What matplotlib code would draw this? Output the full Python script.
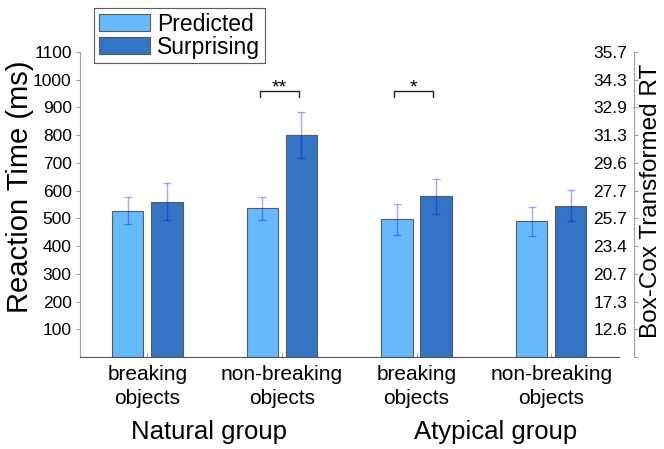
import numpy as np
import matplotlib
matplotlib.use("Agg")
import matplotlib.pyplot as plt

plt.rcParams['font.family'] = ['Liberation Sans', 'DejaVu Sans']

# donnees
categories = ["breaking\nobjects", "non-breaking\nobjects", "breaking\nobjects", "non-breaking\nobjects"]
groups = ["Natural group", "Atypical group"]
predicted = [527, 536, 496, 489]
predicted_err = [49, 42, 56, 52]
surprising = [560, 800, 579, 546]
surprising_err = [67, 83, 63, 57]
left_ticks = [100, 200, 300, 400, 500, 600, 700, 800, 900, 1000, 1100]
right_labels = ["12.6", "17.3", "20.7", "23.4", "25.7", "27.7", "29.6", "31.3", "32.9", "34.3", "35.7"]
signif = [(2, "**"), (3, "*")]

c_pred = "#66bbff"
c_surp = "#3474c4"
edge = "#5a5a5a"
axis_gray = "#a0a0a0"

fig = plt.figure(figsize=(6.64, 4.49), dpi=100)
bot, hgt = 1 - 357 / 449, 305 / 449
ax = fig.add_axes([80 / 664, bot, 538.5 / 664, hgt])

x = np.arange(1, len(categories) + 1)
w = 0.233
off = 0.145

ax.bar(x - off, predicted, w, color=c_pred, edgecolor=edge, linewidth=0.8, label="Predicted", zorder=2)
ax.bar(x + off, surprising, w, color=c_surp, edgecolor=edge, linewidth=0.8, label="Surprising", zorder=2)
ax.errorbar(x - off, predicted, yerr=predicted_err, fmt="none", ecolor="#0000ff", alpha=0.35,
            elinewidth=1, capsize=3, capthick=1, zorder=3)
ax.errorbar(x + off, surprising, yerr=surprising_err, fmt="none", ecolor="#0000ff", alpha=0.35,
            elinewidth=1, capsize=3, capthick=1, zorder=3)

# crochets de significativite
for pos, star in signif:
    xl, xr = pos - off - 0.02, pos + off - 0.02
    ax.plot([xl, xl, xr, xr], [938, 959, 959, 938], color="#222222", lw=1)
    ax.text(pos - 0.02, 938, star, ha="center", va="bottom", fontsize=14)

ax.set_xlim(0.5, 4.5)
ax.set_ylim(0, 1100)
ax.set_yticks(left_ticks)
ax.tick_params(axis="y", direction="out", length=3, color=axis_gray, labelsize=12.5, pad=3)
ax.set_xticks(x)
ax.set_xticklabels(categories, fontsize=15, linespacing=1.3)
ax.tick_params(axis="x", direction="in", length=3, color=axis_gray, pad=6)
ax.spines["top"].set_visible(False)
ax.spines["right"].set_visible(False)
ax.spines["left"].set_color(axis_gray)
ax.spines["bottom"].set_color("#555555")
ax.set_ylabel("Reaction Time (ms)", fontsize=21)
ax.yaxis.set_label_coords((34 - 80) / 538.5, (357 - 187) / 305)

# groupes sous les categories
for gx, g in zip([1.46, 3.59], groups):
    ax.text(gx, -0.246, g, transform=ax.get_xaxis_transform(), ha="center", va="center", fontsize=18.5)

# axe de droite : valeurs Box-Cox (etiquettes a gauche de l'axe)
ax2 = fig.add_axes([634 / 664, bot, 0.0001, hgt])
ax2.set_ylim(0, 1100)
ax2.set_xticks([])
ax2.set_yticks([0] + left_ticks)
ax2.set_yticklabels([""] + right_labels)
ax2.patch.set_visible(False)
ax2.spines["left"].set_color(axis_gray)
for s in ["top", "right", "bottom"]:
    ax2.spines[s].set_visible(False)
ax2.tick_params(axis="y", direction="in", length=3, color=axis_gray, labelsize=12.5, pad=5)
ax2.yaxis.set_label_position("right")
ax2.set_ylabel("Box-Cox Transformed RT", fontsize=17.5)
ax2.yaxis.set_label_coords(1 + 5.5 / 0.0664, (357 - 201) / 305)

leg = ax.legend(loc="upper left", bbox_to_anchor=(94 / 664, 1 - 8 / 449), bbox_transform=fig.transFigure,
                fontsize=16.5, frameon=True, fancybox=False, borderpad=0.2, labelspacing=0.0,
                handlelength=2.25, handleheight=0.75, handletextpad=0.3, borderaxespad=0)
leg.get_frame().set_edgecolor("#333333")
leg.get_frame().set_linewidth(0.8)
leg.set_zorder(5)

fig.savefig("out.png", dpi=100)
